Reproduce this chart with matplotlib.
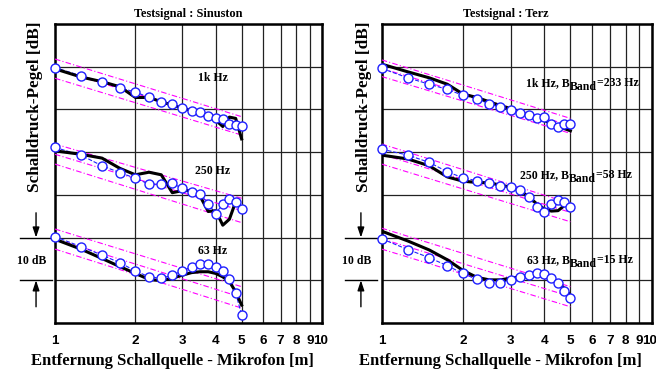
import numpy as np
import matplotlib
matplotlib.use("Agg")
import matplotlib.pyplot as plt
from matplotlib.ticker import NullLocator
import matplotlib.transforms as mtransforms

# Messpunkte (Abstand in m)
dist = [1.0, 1.25, 1.5, 1.75, 2.0, 2.25, 2.5, 2.75, 3.0, 3.25, 3.5, 3.75, 4.0, 4.25, 4.5, 4.75, 5.0]
band_x = [1.0, 5.0]

# Sinuston - Messwerte (Kreise) und Rechnung (Linie), dB relativ
sin_1k_meas = [59.8, 57.9, 56.4, 55.0, 54.1, 52.8, 51.8, 51.2, 50.3, 49.7, 49.3, 48.5, 48.1, 47.7, 46.6, 46.4, 46.1]
sin_1k_calc = [59.5, 57.6, 56.5, 55.3, 52.8, 52.8, 51.8, 51.0, 50.3, 49.7, 49.1, 48.3, 47.5, 46.0, 48.2, 47.9, 43.1]
sin_250_meas = [41.1, 39.3, 36.8, 35.2, 33.9, 32.5, 32.5, 32.7, 31.5, 30.7, 30.2, 27.9, 25.6, 27.9, 29.0, 28.3, 26.6]
sin_250_calc = [40.3, 39.5, 38.6, 36.2, 34.7, 35.3, 34.7, 30.5, 31.0, 31.0, 29.6, 26.1, 26.3, 22.9, 24.3, 28.4, 26.9]
sin_63_meas = [20.2, 17.9, 15.9, 14.1, 12.2, 10.8, 10.5, 11.2, 12.2, 13.2, 13.7, 13.7, 13.2, 12.2, 10.3, 7.0, 1.9]
sin_63_calc = [19.6, 17.3, 15.1, 13.2, 11.6, 10.2, 9.9, 10.5, 11.2, 11.8, 12.0, 12.0, 11.6, 10.8, 9.7, 7.3, 4.2]

# Terz
terz_1k_meas = [59.6, 57.4, 55.9, 54.7, 53.3, 52.5, 51.3, 50.5, 49.9, 49.2, 48.6, 47.9, 48.2, 46.7, 45.9, 46.5, 46.6]
terz_1k_calc = [60.6, 58.8, 57.4, 55.9, 53.6, 52.8, 51.8, 50.9, 50.2, 49.4, 48.7, 48.0, 47.4, 46.8, 46.1, 45.5, 45.0]
terz_250_meas = [40.7, 39.3, 37.6, 35.4, 34.0, 33.3, 32.8, 32.1, 31.8, 31.1, 29.6, 27.2, 26.0, 27.9, 28.9, 28.4, 27.2]
terz_250_calc = [39.3, 38.4, 36.8, 34.2, 33.2, 32.9, 32.8, 32.3, 31.8, 31.0, 29.6, 27.9, 26.7, 26.2, 26.3, 27.5, 27.6]
terz_63_meas = [19.7, 17.2, 15.3, 13.4, 11.6, 10.2, 9.4, 9.4, 10.1, 10.8, 11.2, 11.6, 11.4, 10.6, 9.3, 7.6, 5.8]
terz_63_calc = [21.5, 19.2, 17.1, 14.8, 12.3, 10.7, 10.1, 10.1, 10.5, 10.8, 11.2, 11.4, 11.1, 10.3, 9.5, 8.1, 6.5]

# Toleranzband (oben, mitte, unten) bei 1 m und 5 m
sin_bands = [
    ([61.8, 48.3], [59.5, 46.1], [57.3, 44.0]),
    ([41.9, 29.2], [39.5, 26.3], [37.2, 23.5]),
    ([22.0, 8.5], [19.7, 6.0], [17.3, 3.5]),
]
terz_bands = [
    ([61.6, 47.9], [59.6, 46.2], [57.7, 44.4]),
    ([41.9, 28.0], [39.5, 25.9], [37.2, 23.7]),
    ([22.2, 8.5], [19.7, 6.2], [17.3, 3.8]),
]

xticks = [1, 2, 3, 4, 5, 6, 7, 8, 9, 10]
xtick_labels = ['1', '2', '3', '4', '5', '6', '7', '8', '9', '10']

sin_labels = ['1k Hz', '250 Hz', '63 Hz']
sin_label_pos = [(3.9, 57.4), (3.9, 35.5), (3.9, 16.9)]
terz_labels = [('1k Hz, B', 'Band', '=233 Hz'),
               ('250 Hz, B', 'Band', '=58 Hz'),
               ('63 Hz, B', 'Band', '=15 Hz')]
terz_label_pos = [(3.42, 56.2), (3.25, 34.7), (3.45, 14.8)]

serif = 'Liberation Serif'
sans = 'Liberation Sans'

fig = plt.figure(figsize=(6.56, 3.72), dpi=100)
W, H = 656.0, 372.0
ax1 = fig.add_axes([55 / W, 49 / H, 267 / W, 299 / H])
ax2 = fig.add_axes([381.7 / W, 49 / H, 270 / W, 299 / H])


def setup(ax, shift10):
    ax.set_xscale('log')
    ax.set_xlim(1, 10)
    ax.set_ylim(0, 70)
    ax.set_xticks(xticks)
    ax.set_xticklabels(xtick_labels, fontfamily=sans, fontweight='bold', fontsize=9.7)
    ax.xaxis.set_minor_locator(NullLocator())
    ax.set_yticks(range(0, 71, 10))
    ax.set_yticklabels([])
    ax.tick_params(length=0, pad=9)
    ax.grid(True, color='#222222', lw=0.9)
    ax.set_axisbelow(True)
    for s in ax.spines.values():
        s.set_linewidth(1.8)
    # "10" etwas nach links, wie im Original ("910")
    lab = ax.get_xticklabels()[-1]
    lab.set_transform(lab.get_transform() + mtransforms.ScaledTranslation(shift10 / 100, 0, fig.dpi_scale_trans))


def draw_group(ax, meas, calc, band):
    up, mid, lo = band
    for b in (up, mid, lo):
        ax.plot(band_x, b, color='#ff00ff', lw=0.8, dashes=(5, 2, 1, 2), zorder=3)
    ax.plot(dist, meas, color='#1f1fff', lw=0.8, ls='--', zorder=4)
    ax.plot(dist, calc, color='black', lw=2.2, zorder=5)
    ax.plot(dist, meas, ls='none', marker='o', ms=6.5, mfc='white', mec='#1f1fff',
            mew=1.0, zorder=6, clip_on=False)


def scale_bar(ax, xl, xr, xa, xt):
    tr = mtransforms.blended_transform_factory(ax.transAxes, ax.transData)
    for yy in (10, 20):
        ax.plot([xl, xr], [yy, yy], color='black', lw=1.0, transform=tr, clip_on=False)
    ax.annotate('', xy=(xa, 20), xytext=(xa, 25.8), xycoords=tr, textcoords=tr,
                arrowprops=dict(arrowstyle='-|>,head_length=0.6,head_width=0.2',
                                color='black', lw=1.0, shrinkA=0, shrinkB=0))
    ax.annotate('', xy=(xa, 10), xytext=(xa, 3.8), xycoords=tr, textcoords=tr,
                arrowprops=dict(arrowstyle='-|>,head_length=0.6,head_width=0.2',
                                color='black', lw=1.0, shrinkA=0, shrinkB=0))
    ax.text(xt, 14.6, '10 dB', transform=tr, ha='center', va='center',
            fontfamily=serif, fontweight='bold', fontsize=8.5)


def sub_label(ax, x, y, parts, renderer):
    pre, sub, post = parts
    kw = dict(fontfamily=serif, fontweight='bold', ha='left', va='center', fontsize=8.5)
    t1 = ax.text(x, y, pre, **kw)
    w1 = t1.get_window_extent(renderer).width
    t2 = ax.annotate(sub, xy=(x, y), xytext=(w1, -4), textcoords='offset pixels', **kw)
    w2 = t2.get_window_extent(renderer).width
    ax.annotate(post, xy=(x, y), xytext=(w1 + w2, 0), textcoords='offset pixels', **kw)


setup(ax1, -1.0)
setup(ax2, -2.5)

sin_data = [(sin_1k_meas, sin_1k_calc), (sin_250_meas, sin_250_calc), (sin_63_meas, sin_63_calc)]
terz_data = [(terz_1k_meas, terz_1k_calc), (terz_250_meas, terz_250_calc), (terz_63_meas, terz_63_calc)]

renderer = fig.canvas.get_renderer()
for i in range(3):
    draw_group(ax1, sin_data[i][0], sin_data[i][1], sin_bands[i])
    draw_group(ax2, terz_data[i][0], terz_data[i][1], terz_bands[i])
    ax1.text(sin_label_pos[i][0], sin_label_pos[i][1], sin_labels[i], ha='center', va='center',
             fontfamily=serif, fontweight='bold', fontsize=8.5)
    sub_label(ax2, terz_label_pos[i][0], terz_label_pos[i][1], terz_labels[i], renderer)

scale_bar(ax1, -0.131, -0.011, -0.071, -0.086)
scale_bar(ax2, -0.136, -0.017, -0.077, -0.093)

# Titel
ax1.text(0.5, 1.012, 'Testsignal : Sinuston', transform=ax1.transAxes, ha='center', va='bottom',
         fontfamily=serif, fontweight='bold', fontsize=8.8)
ax2.text(0.46, 1.012, 'Testsignal : Terz', transform=ax2.transAxes, ha='center', va='bottom',
         fontfamily=serif, fontweight='bold', fontsize=8.8)

# Achsenbeschriftungen
for xc in (172.5, 500.5):
    fig.text(xc / W, 1 - 361 / H, 'Entfernung Schallquelle - Mikrofon [m]', ha='center', va='center',
             fontfamily=serif, fontweight='bold', fontsize=12)
for xc in (35, 364):
    fig.text(xc / W, 1 - 106.5 / H, 'Schalldruck-Pegel [dB]', rotation=90, ha='center', va='center',
             fontfamily=serif, fontweight='bold', fontsize=12.3)

fig.savefig('out.png', dpi=100)
